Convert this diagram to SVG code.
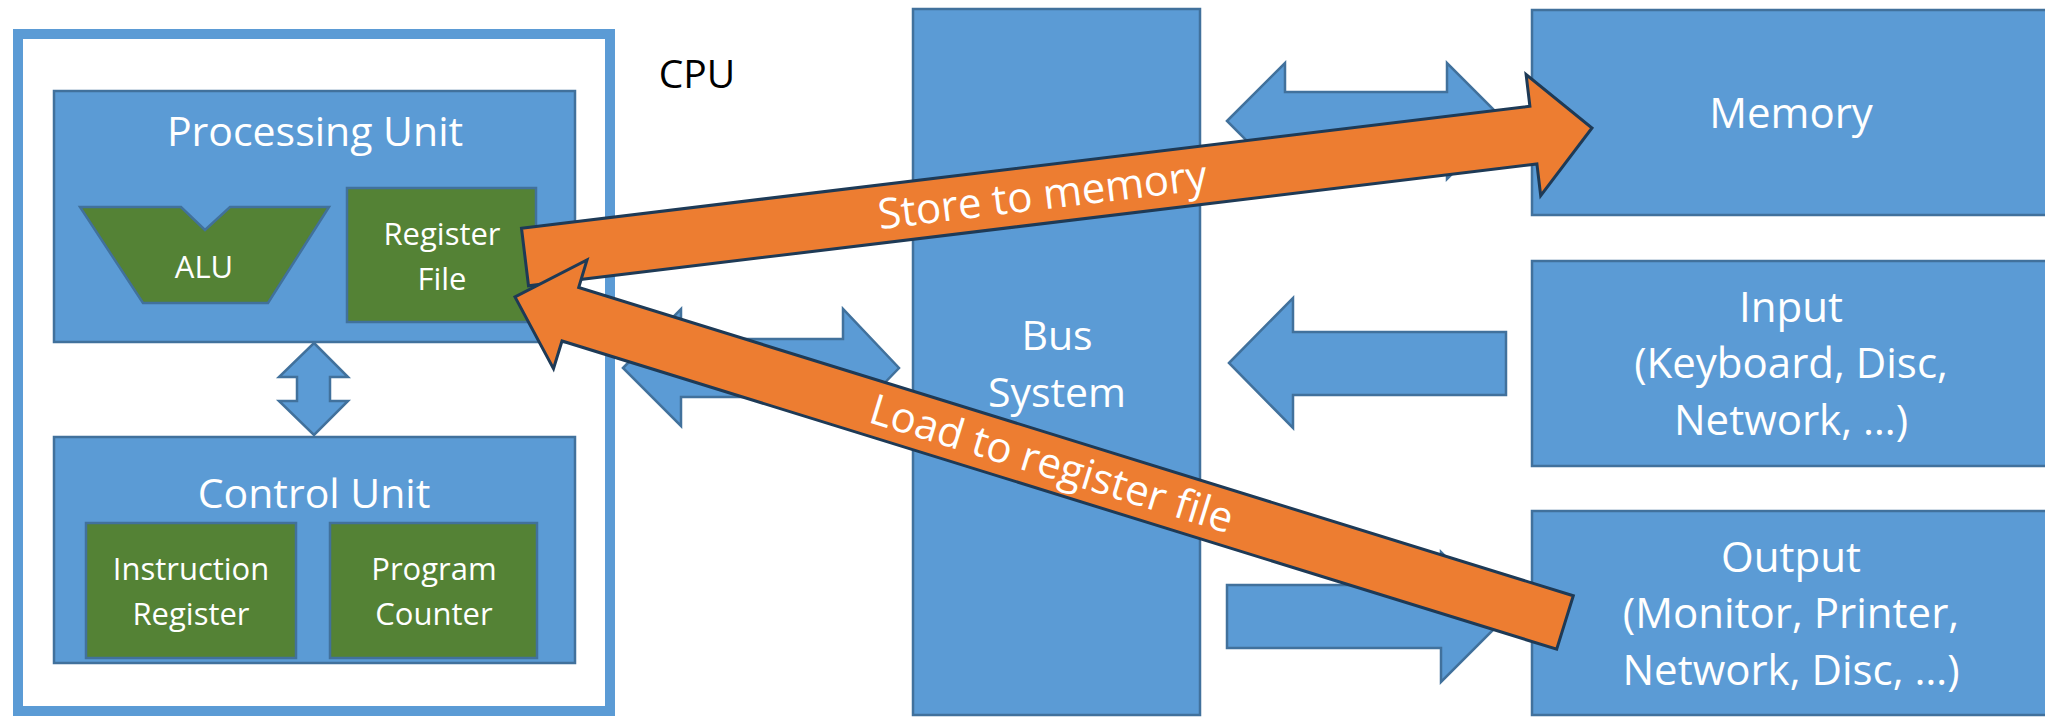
<svg xmlns="http://www.w3.org/2000/svg" width="2045" height="717" viewBox="0 0 2045 717">
  <style>
    .box { fill: #5B9BD5; stroke: #41719C; stroke-width: 2.5; }
    .reg { fill: #548235; stroke: #41719C; stroke-width: 2.5; }
    .bus-arrow { fill: #5B9BD5; stroke: #41719C; stroke-width: 2.5; stroke-linejoin: miter; }
    .flow { fill: #ED7D31; stroke: #1E3A56; stroke-width: 3; stroke-linejoin: miter; }
    text { font-family: "Open Sans", "Noto Sans", sans-serif; fill: #FFFFFF; text-anchor: middle; }
    .big { font-size: 41px; }
    .small { font-size: 31px; }
    .dev { font-size: 42px; }
    .flow-label { font-size: 42px; }
  </style>

  <!-- CPU enclosure -->
  <g id="cpu">
    <rect x="18" y="34" width="592" height="677" fill="#FFFFFF" stroke="#5B9BD5" stroke-width="10"/>
    <text x="697" y="88" style="font-size:39px; fill:#000000;">CPU</text>
  </g>

  <g id="processing-unit">
    <rect class="box" x="54" y="91" width="521" height="251"/>
    <text class="big" x="315" y="146">Processing Unit</text>
  </g>

  <g id="alu">
    <polygon class="reg" points="80,207 181,207 205,230 230,207 329,207 268,303 143,303"/>
    <text class="small" x="204" y="278">ALU</text>
  </g>

  <g id="register-file">
    <rect class="reg" x="347" y="188" width="189" height="134"/>
    <text class="small" x="442" y="245">Register</text>
    <text class="small" x="442" y="290">File</text>
  </g>

  <g id="control-unit">
    <rect class="box" x="54" y="437" width="521" height="226"/>
    <text class="big" x="314" y="508">Control Unit</text>
  </g>

  <g id="instruction-register">
    <rect class="reg" x="86" y="523" width="210" height="135"/>
    <text class="small" x="191" y="580">Instruction</text>
    <text class="small" x="191" y="625">Register</text>
  </g>

  <g id="program-counter">
    <rect class="reg" x="330" y="523" width="207" height="135"/>
    <text class="small" x="434" y="580">Program</text>
    <text class="small" x="434" y="625">Counter</text>
  </g>

  <g id="bus-system">
    <rect class="box" x="913" y="9" width="287" height="706"/>
    <text class="big" x="1057" y="350">Bus</text>
    <text class="big" x="1057" y="407">System</text>
  </g>

  <g id="memory">
    <rect class="box" x="1532" y="10" width="540" height="205"/>
    <text class="dev" x="1791" y="128">Memory</text>
  </g>

  <g id="input">
    <rect class="box" x="1532" y="261" width="540" height="205"/>
    <text class="dev" x="1791" y="322">Input</text>
    <text class="dev" x="1791" y="378">(Keyboard, Disc,</text>
    <text class="dev" x="1791" y="435">Network, …)</text>
  </g>

  <g id="output">
    <rect class="box" x="1532" y="511" width="540" height="204"/>
    <text class="dev" x="1791" y="572">Output</text>
    <text class="dev" x="1791" y="628">(Monitor, Printer,</text>
    <text class="dev" x="1791" y="685">Network, Disc, …)</text>
  </g>

  <g id="connectors">
    <!-- processing unit <-> control unit -->
    <polygon class="bus-arrow" points="314,343 348,377 330,377 330,401 348,401 314,435 279,401 297,401 297,377 279,377"/>
    <!-- CPU <-> bus -->
    <polygon class="bus-arrow" points="623,368 681,309 681,339 843,339 843,309 899,368 843,426 843,397 681,397 681,426"/>
    <!-- bus <-> memory -->
    <polygon class="bus-arrow" points="1227,121 1285,63 1285,92 1447,92 1447,63 1505,121 1447,179 1447,150 1285,150 1285,179"/>
    <!-- input -> bus -->
    <polygon class="bus-arrow" points="1229,363 1293,298 1293,332 1506,332 1506,395 1293,395 1293,428"/>
    <!-- bus -> output -->
    <polygon class="bus-arrow" points="1227,585 1441,585 1441,552 1506,617 1441,682 1441,648 1227,648"/>

    <!-- data movement: register file -> memory -->
    <g id="store-to-memory">
      <polygon class="flow" points="521.5,228.2 1529.9,106.3 1526.1,74.5 1592,128 1540.7,195.7 1536.9,163.9 528.5,285.8"/>
      <text class="flow-label" transform="translate(525,257) rotate(-6.9)" x="521" y="15">Store to memory</text>
    </g>

    <!-- data movement: output/IO -> register file -->
    <g id="load-to-register-file">
      <polygon class="flow" points="1573.3,595.8 578.7,287.5 587,260 515,297 553.5,368.7 562,341 1556.7,649.2"/>
      <text class="flow-label" transform="translate(515,297) rotate(17.2)" x="562" y="15">Load to register file</text>
    </g>
  </g>
</svg>
